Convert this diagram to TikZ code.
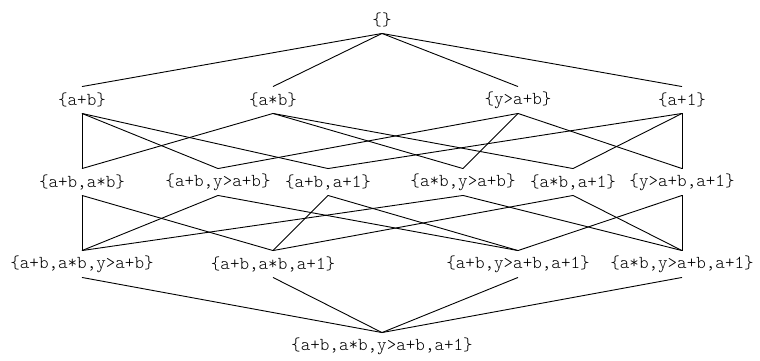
\documentclass[tikz,border=0pt]{standalone}
\usepackage{fontspec}
\setmonofont{Latin Modern Mono Light}
\begin{document}
\begin{tikzpicture}[x=1pt,y=-1pt,line width=0.9pt,every node/.style={font=\ttfamily\fontsize{18.2}{21}\selectfont,inner sep=0pt,minimum height=26pt}]
  \useasboundingbox (0,0) rectangle (760,360);
  % empty set
  \node (E) at (382,20) {\{\}};
  % one element
  \node (A) at (82,100) {\{a+b\}};
  \node (M) at (273,100) {\{a*b\}};
  \node (Y) at (518,100) {\{y>a+b\}};
  \node (P) at (682,100) {\{a+1\}};
  % two elements
  \node (AM) at (82,182) {\{a+b,a*b\}};
  \node (AY) at (218,182) {\{a+b,y>a+b\}};
  \node (AP) at (328,182) {\{a+b,a+1\}};
  \node (MY) at (463,182) {\{a*b,y>a+b\}};
  \node (MP) at (573,182) {\{a*b,a+1\}};
  \node (YP) at (682,182) {\{y>a+b,a+1\}};
  % three elements
  \node (AMY) at (82,264) {\{a+b,a*b,y>a+b\}};
  \node (AMP) at (273,264) {\{a+b,a*b,a+1\}};
  \node (AYP) at (518,264) {\{a+b,y>a+b,a+1\}};
  \node (MYP) at (682,264) {\{a*b,y>a+b,a+1\}};
  % all
  \node (AMYP) at (382,346) {\{a+b,a*b,y>a+b,a+1\}};
  \path (E.south) edge (A.north) edge (M.north) edge (Y.north) edge (P.north);
  \path (A.south) edge (AM.north) edge (AY.north) edge (AP.north);
  \path (M.south) edge (AM.north) edge (MY.north) edge (MP.north);
  \path (Y.south) edge (AY.north) edge (MY.north) edge (YP.north);
  \path (P.south) edge (AP.north) edge (MP.north) edge (YP.north);
  \path (AM.south) edge (AMY.north) edge (AMP.north);
  \path (AY.south) edge (AMY.north) edge (AYP.north);
  \path (AP.south) edge (AMP.north) edge (AYP.north);
  \path (MY.south) edge (AMY.north) edge (MYP.north);
  \path (MP.south) edge (AMP.north) edge (MYP.north);
  \path (YP.south) edge (AYP.north) edge (MYP.north);
  \path (AMYP.north) edge (AMY.south) edge (AMP.south) edge (AYP.south) edge (MYP.south);
\end{tikzpicture}
\end{document}
